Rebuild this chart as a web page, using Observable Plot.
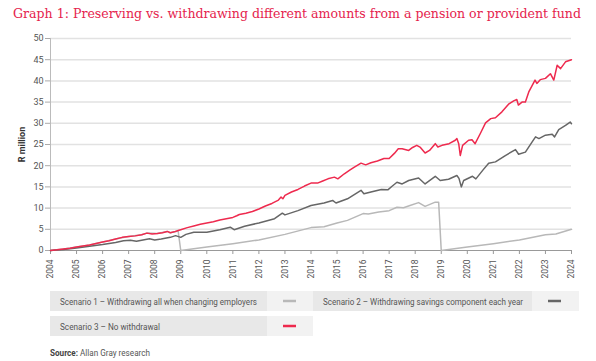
<!DOCTYPE html>
<html><head><meta charset="utf-8">
<script src="https://cdn.jsdelivr.net/npm/d3@7"></script>
<script src="https://cdn.jsdelivr.net/npm/@observablehq/plot@0.6"></script>
<style>
body{margin:0;background:#fff;font-family:Roboto,sans-serif;}
#wrap{position:relative;width:596px;height:361px;overflow:hidden;background:#fff;}
#title{position:absolute;left:0;top:0;}
#chart{position:absolute;left:0;top:28px;}
#legend{position:absolute;left:0;top:287px;}
#chart [aria-label="y-axis label"] text{font-weight:bold;fill:#333;}
</style></head><body>
<div id="wrap"><svg id="title" width="596" height="28"></svg><div id="chart"></div><svg id="legend" width="596" height="74"></svg></div>
<script>
const titleText = "Graph 1: Preserving vs. withdrawing different amounts from a pension or provident fund";
const yLabel = "R million";
const seriesNames = ["Scenario 1 – Withdrawing all when changing employers", "Scenario 2 – Withdrawing savings component each year", "Scenario 3 – No withdrawal"];
const sourceLabel = "Source:";
const sourceText = " Allan Gray research";
const xTicks = [2004,2005,2006,2007,2008,2009,2010,2011,2012,2013,2014,2015,2016,2017,2018,2019,2020,2021,2022,2023,2024];
const yTicks = [0,5,10,15,20,25,30,35,40,45,50];

// Scenario 3 – No withdrawal
const t3 = [2004.0,2004.25,2004.5,2004.75,2005.0,2005.25,2005.5,2005.75,2006.0,2006.25,2006.5,2006.75,2007.0,2007.25,2007.5,2007.7,2007.9,2008.1,2008.3,2008.48,2008.6,2008.75,2008.9,2009.0,2009.25,2009.5,2009.75,2010.0,2010.25,2010.5,2010.75,2011.0,2011.15,2011.25,2011.5,2011.75,2012.0,2012.25,2012.5,2012.75,2012.85,2012.92,2013.0,2013.25,2013.5,2013.75,2014.0,2014.25,2014.45,2014.65,2014.9,2015.03,2015.28,2015.5,2015.65,2015.92,2016.1,2016.3,2016.55,2016.8,2017.0,2017.2,2017.35,2017.5,2017.75,2017.9,2018.06,2018.2,2018.38,2018.55,2018.77,2018.87,2019.03,2019.3,2019.54,2019.6,2019.67,2019.73,2019.82,2020.05,2020.18,2020.3,2020.5,2020.7,2020.9,2021.08,2021.33,2021.6,2021.78,2021.9,2021.96,2022.1,2022.23,2022.36,2022.6,2022.67,2022.8,2023.0,2023.19,2023.32,2023.45,2023.58,2023.77,2024.0];
const v3 = [0,0.15,0.35,0.55,0.8,1.05,1.3,1.65,2.0,2.3,2.7,3.1,3.3,3.45,3.7,4.1,3.9,4.0,4.2,4.5,4.2,4.4,4.7,4.9,5.4,5.8,6.2,6.5,6.8,7.2,7.5,7.8,8.2,8.5,8.8,9.2,9.8,10.5,11.1,11.9,12.6,12.2,13.0,13.8,14.4,15.2,15.9,15.9,16.4,16.9,17.3,16.9,18.1,19.0,19.6,20.6,20.2,20.7,21.1,21.7,21.7,22.9,24.0,24.0,23.6,24.3,24.8,24.3,23.0,23.6,25.2,24.4,24.8,25.2,26.0,26.4,25.2,22.4,24.8,26.0,26.1,25.2,27.6,30.1,31.1,31.3,32.7,34.6,35.3,35.6,34.3,35.0,35.0,37.4,40.2,39.4,40.3,40.6,41.7,40.2,43.7,42.9,44.5,45.0];

// Scenario 2 – Withdrawing savings component each year
const t2 = [2004.0,2004.5,2005.0,2005.5,2006.0,2006.5,2006.8,2007.07,2007.3,2007.55,2007.8,2008.0,2008.25,2008.6,2008.8,2009.0,2009.2,2009.5,2010.0,2010.5,2010.9,2011.05,2011.45,2012.0,2012.6,2012.9,2013.0,2013.5,2014.0,2014.5,2014.83,2014.96,2015.4,2015.92,2016.03,2016.3,2016.7,2016.95,2017.1,2017.3,2017.5,2017.75,2018.13,2018.38,2018.77,2018.96,2019.28,2019.6,2019.68,2019.77,2019.86,2020.2,2020.33,2020.59,2020.82,2021.08,2021.46,2021.85,2021.97,2022.23,2022.49,2022.62,2022.75,2023.0,2023.26,2023.35,2023.51,2023.77,2023.95,2024.0];
const v2 = [0,0.25,0.6,1.0,1.4,1.9,2.3,2.4,2.2,2.5,2.75,2.5,2.7,3.1,3.5,3.1,3.8,4.3,4.3,4.9,5.5,4.9,5.7,6.5,7.5,8.8,8.4,9.4,10.6,11.2,11.8,11.2,12.2,14.2,13.4,13.8,14.4,14.3,15.1,16.1,15.7,16.5,17.1,15.7,17.5,16.5,16.8,17.7,17.0,15.0,16.5,17.5,16.9,18.9,20.6,20.9,22.4,23.8,22.7,23.2,25.6,26.8,26.4,27.2,27.4,26.8,28.5,29.5,30.3,29.9];

// Scenario 1 – Withdrawing all when changing employers
const t1 = [2004.0,2004.5,2005.0,2005.5,2006.0,2006.5,2007.0,2007.5,2007.7,2008.1,2008.48,2008.6,2008.9,2009.0,2010.0,2011.0,2012.0,2013.0,2014.0,2014.5,2015.0,2015.4,2016.0,2016.2,2016.6,2017.0,2017.3,2017.55,2017.8,2018.13,2018.38,2018.77,2018.9,2019.0,2020.0,2021.0,2022.0,2023.0,2023.4,2024.0];
const v1 = [0,0.35,0.8,1.3,2.0,2.7,3.3,3.7,4.1,4.0,4.5,4.2,4.6,0,0.8,1.6,2.5,3.8,5.4,5.6,6.5,7.1,8.7,8.6,9.1,9.4,10.2,10.1,10.6,11.3,10.4,11.4,11.4,0,0.8,1.6,2.5,3.7,3.9,5.0];

const colors = ["#b8b8b8", "#666666", "#ee2a4e"];

const s1 = t1.map((t,i)=>({t, v:v1[i]}));
const s2 = t2.map((t,i)=>({t, v:v2[i]}));
const s3 = t3.map((t,i)=>({t, v:v3[i]}));

const chart = Plot.plot({
  width: 596, height: 260,
  marginTop: 10, marginBottom: 38, marginLeft: 50, marginRight: 25,
  style: {fontFamily: "Roboto, sans-serif", fontSize: "9px", color: "#555", background: "white", overflow: "visible"},
  x: {domain: [2004, 2024]},
  y: {domain: [0, 50]},
  marks: [
    Plot.ruleY(yTicks.filter(d => d > 0), {stroke: "#e2e2e2", strokeWidth: 1.5}),
    Plot.axisY({ticks: yTicks, tickSize: 5, tickPadding: 2, stroke: "#aaa", label: yLabel, labelAnchor: "center", labelArrow: "none", labelOffset: 32}),
    Plot.axisX({ticks: xTicks, tickFormat: d => String(d), tickRotate: -90, tickSize: 4, tickPadding: 5, stroke: "#999", label: null, fontSize: 8.5}),
    Plot.ruleX([2004], {stroke: "#bbb"}),
    Plot.ruleY([0], {stroke: "#999"}),
    Plot.line(s1, {x: "t", y: "v", stroke: colors[0], strokeWidth: 1.5}),
    Plot.line(s2, {x: "t", y: "v", stroke: colors[1], strokeWidth: 1.5}),
    Plot.line(s3, {x: "t", y: "v", stroke: colors[2], strokeWidth: 1.5})
  ]
});
document.getElementById("chart").appendChild(chart);

// Title: choose a font size whose natural width fits, then fine-fit
const tsvg = d3.select("#title");
const tt = tsvg.append("text").attr("x", 13).attr("y", 18)
  .attr("font-family", "'DejaVu Serif', serif").attr("font-size", 14)
  .attr("fill", "#e5234d")
  .text(titleText);
const natural = tt.node().getComputedTextLength();
const fs = Math.min(14, 14 * 570 / natural);
tt.attr("font-size", fs);
const nat2 = tt.node().getComputedTextLength();
if (Math.abs(nat2 - 568) > 1) tt.attr("textLength", 568).attr("lengthAdjust", "spacingAndGlyphs");

// Legend (top = 287)
const lg = d3.select("#legend");
const cells = [
  {x: 50, y: 4, w: 217, lw: 46, tl: 197, si: 0, sw: 13},
  {x: 313, y: 4, w: 219, lw: 47, tl: 200, si: 1, sw: 13},
  {x: 50, y: 29, w: 217, lw: 46, tl: 100, si: 2, sw: 13}
];
cells.forEach((c, i) => {
  lg.append("rect").attr("x", c.x).attr("y", c.y).attr("width", c.w).attr("height", 20).attr("fill", "#e8e8e8");
  lg.append("rect").attr("x", c.x + c.w).attr("y", c.y).attr("width", c.lw).attr("height", 20).attr("fill", "#f2f2f2");
  lg.append("text").attr("x", c.x + 10).attr("y", c.y + 13.5)
    .attr("font-family", "Roboto, sans-serif").attr("font-size", 9.5).attr("fill", "#555")
    .attr("textLength", c.tl).attr("lengthAdjust", "spacingAndGlyphs")
    .text(seriesNames[i]);
  const sx = c.x + c.w + 16;
  lg.append("line").attr("x1", sx).attr("x2", sx + c.sw).attr("y1", c.y + 10).attr("y2", c.y + 10)
    .attr("stroke", colors[c.si]).attr("stroke-width", 2.5);
});
const src = lg.append("text").attr("x", 50).attr("y", 69)
  .attr("font-family", "Roboto, sans-serif").attr("font-size", 9).attr("fill", "#555")
  .attr("textLength", 100).attr("lengthAdjust", "spacingAndGlyphs");
src.append("tspan").attr("font-weight", "bold").attr("fill", "#444").text(sourceLabel);
src.append("tspan").text(sourceText);
</script>
</body></html>
